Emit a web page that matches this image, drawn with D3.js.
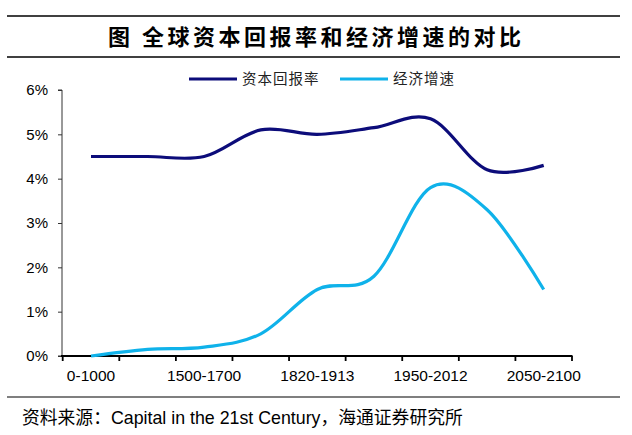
<!DOCTYPE html>
<html>
<head>
<meta charset="utf-8">
<script src="https://cdn.jsdelivr.net/npm/d3@7"></script>
<style>
  body { margin: 0; background: #fff; }
  text { font-family: "Liberation Sans", Arial, sans-serif; }
  .cjk { font-family: "Noto Sans CJK SC", sans-serif; }
</style>
</head>
<body>
<svg id="chart" width="632" height="435"></svg>
<script>
// periods (only every other one is labelled on the axis)
var periods = ["0-1000", "1000-1500", "1500-1700", "1700-1820", "1820-1913",
               "1913-1950", "1950-2012", "2012-2050", "2050-2100"];
var shownLabels = ["0-1000", "1500-1700", "1820-1913", "1950-2012", "2050-2100"];
var returnRate = [4.5, 4.5, 4.5, 5.1, 5.0, 5.15, 5.35, 4.2, 4.3];   // 资本回报率, %
var growthRate = [0.0, 0.15, 0.2, 0.5, 1.5, 1.8, 3.8, 3.3, 1.5];   // 经济增速, %
var yTicks = [0, 1, 2, 3, 4, 5, 6];

var svg = d3.select("#chart");

var x = d3.scaleBand().domain(periods).range([62.7, 572]).padding(0);
var y = d3.scaleLinear().domain([0, 6]).range([356, 90]);

// title block
svg.append("line").attr("x1", 7).attr("x2", 620).attr("y1", 16).attr("y2", 16)
  .attr("stroke", "#000").attr("stroke-width", 1.3);
svg.append("line").attr("x1", 7).attr("x2", 620).attr("y1", 57).attr("y2", 57)
  .attr("stroke", "#000").attr("stroke-width", 1.3);
svg.append("text").attr("class", "cjk")
  .attr("x", 108).attr("y", 45)
  .style("font-size", "22px").style("font-weight", "bold")
  .style("letter-spacing", "3.5px")
  .text("图  全球资本回报率和经济增速的对比");

// legend
var legend = [
  {name: "资本回报率", color: "#0c0c7a", x: 189},
  {name: "经济增速", color: "#0fb2ea", x: 340}
];
var lg = svg.selectAll(".lg").data(legend).enter().append("g")
  .attr("transform", function(d) { return "translate(" + d.x + ",79)"; });
lg.append("line").attr("x1", 0).attr("x2", 48)
  .attr("stroke", function(d) { return d.color; }).attr("stroke-width", 3);
lg.append("text").attr("class", "cjk").attr("x", 53).attr("y", 5)
  .style("font-size", "14.5px").style("letter-spacing", "1px").attr("fill", "#222")
  .text(function(d) { return d.name; });

// y axis
var yAxis = d3.axisLeft(y).tickValues(yTicks).tickSize(4).tickPadding(10)
  .tickFormat(function(d) { return d + "%"; });
var gy = svg.append("g").attr("transform", "translate(62,0)").call(yAxis);
gy.select(".domain").attr("stroke", "#333").attr("d", "M-4,90H0V356H-4");
gy.selectAll(".tick line").attr("stroke", "#333");
gy.selectAll(".tick text").style("font-size", "15px")
  .style("font-family", "'Liberation Sans', Arial, sans-serif").attr("fill", "#000");

// x axis: ticks on band boundaries
var bounds = periods.map(function(p) { return x(p); }).concat([x.range()[1]]);
var gx = svg.append("g");
gx.append("line").attr("x1", 61).attr("x2", 572.5).attr("y1", 356).attr("y2", 356)
  .attr("stroke", "#000").attr("stroke-width", 2.2);
gx.selectAll(".xt").data(bounds).enter().append("line")
  .attr("x1", function(d) { return d; }).attr("x2", function(d) { return d; })
  .attr("y1", 356).attr("y2", 361).attr("stroke", "#000").attr("stroke-width", 1.8);
gx.selectAll(".xl").data(shownLabels).enter().append("text")
  .attr("x", function(d) { return x(d) + x.bandwidth() / 2; })
  .attr("y", 381).attr("text-anchor", "middle")
  .style("font-size", "15.5px").attr("fill", "#000")
  .text(function(d) { return d; });

// lines, smoothed like the spreadsheet original
var line = d3.line()
  .x(function(d, i) { return x(periods[i]) + x.bandwidth() / 2; })
  .y(function(d) { return y(d); })
  .curve(d3.curveCatmullRom.alpha(0));

svg.append("path").datum(returnRate).attr("d", line)
  .attr("fill", "none").attr("stroke", "#0c0c7a").attr("stroke-width", 3.2);
svg.append("path").datum(growthRate).attr("d", line)
  .attr("fill", "none").attr("stroke", "#0fb2ea").attr("stroke-width", 3.2);

// source
svg.append("line").attr("x1", 7).attr("x2", 620).attr("y1", 397).attr("y2", 397)
  .attr("stroke", "#000").attr("stroke-width", 1.2);
var src = svg.append("text").attr("x", 22).attr("y", 424).style("font-size", "17.8px").attr("fill", "#000");
src.append("tspan").attr("class", "cjk").text("资料来源：");
src.append("tspan").text("Capital in the 21st Century");
src.append("tspan").attr("class", "cjk").text("，海通证券研究所");
</script>
</body>
</html>
